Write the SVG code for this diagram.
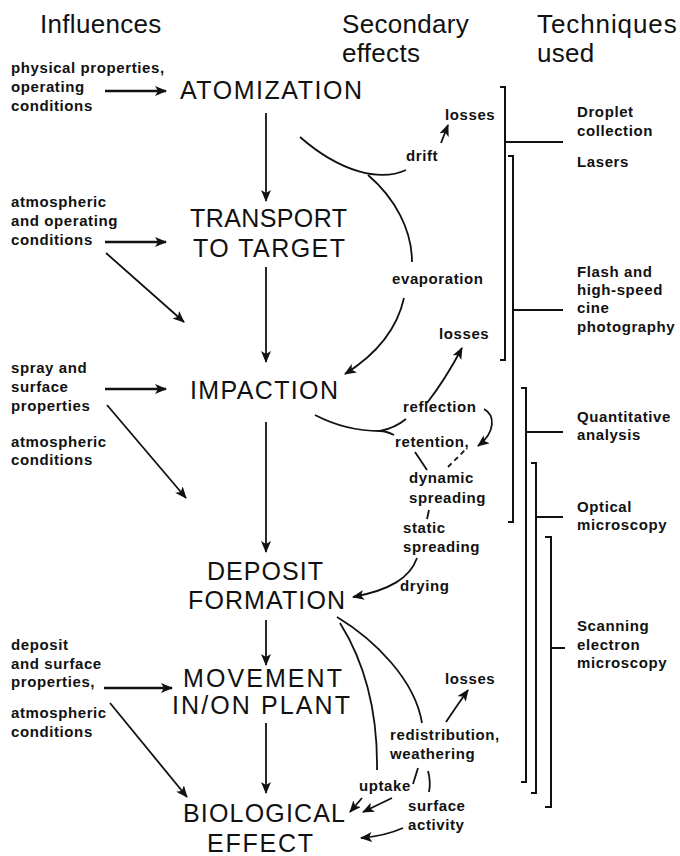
<svg xmlns="http://www.w3.org/2000/svg" width="680" height="856" viewBox="0 0 680 856">
  <defs>
    <style>
      text { font-family: "Liberation Sans", Arial, Helvetica, sans-serif; fill: #111; }
      .head { font-size: 26px; letter-spacing: 0.3px; }
      .big { font-size: 25px; }
      .sm { font-size: 15px; font-weight: bold; letter-spacing: 0.6px; }
      .ln { stroke: #111; stroke-width: 1.8; fill: none; }
      .in { stroke: #111; stroke-width: 2.4; fill: none; }
      .br { stroke: #111; stroke-width: 2; fill: none; }
    </style>
    <marker id="ah" viewBox="0 0 12 10" refX="11" refY="5" markerWidth="12" markerHeight="10" markerUnits="userSpaceOnUse" orient="auto">
      <path d="M0,0 L12,5 L0,10 L3,5 z" fill="#111"/>
    </marker>
  </defs>

  <rect width="680" height="856" fill="#fff"/>

  <!-- column headings -->
  <g id="headings">
    <text class="head" x="40" y="33">Influences</text>
    <text class="head" x="342" y="33">Secondary</text>
    <text class="head" x="342" y="62">effects</text>
    <text class="head" x="537" y="33" textLength="140" lengthAdjust="spacing">Techniques</text>
    <text class="head" x="537" y="62">used</text>
  </g>

  <!-- main process stages -->
  <g id="atomization"><text class="big" x="180" y="99" textLength="182" lengthAdjust="spacing">ATOMIZATION</text></g>
  <g id="transport">
    <text class="big" x="190" y="227" textLength="157" lengthAdjust="spacing">TRANSPORT</text>
    <text class="big" x="193" y="257" textLength="152" lengthAdjust="spacing">TO TARGET</text>
  </g>
  <g id="impaction"><text class="big" x="190" y="399" textLength="148" lengthAdjust="spacing">IMPACTION</text></g>
  <g id="deposit">
    <text class="big" x="207" y="580" textLength="116" lengthAdjust="spacing">DEPOSIT</text>
    <text class="big" x="188" y="609" textLength="157" lengthAdjust="spacing">FORMATION</text>
  </g>
  <g id="movement">
    <text class="big" x="183" y="687" textLength="159" lengthAdjust="spacing">MOVEMENT</text>
    <text class="big" x="172" y="714" textLength="178" lengthAdjust="spacing">IN/ON PLANT</text>
  </g>
  <g id="biological">
    <text class="big" x="183" y="822" textLength="162" lengthAdjust="spacing">BIOLOGICAL</text>
    <text class="big" x="207" y="852" textLength="106" lengthAdjust="spacing">EFFECT</text>
  </g>

  <!-- influences -->
  <g id="inf-atomization">
    <text class="sm" x="11" y="73">physical properties,</text>
    <text class="sm" x="11" y="92">operating</text>
    <text class="sm" x="11" y="111">conditions</text>
  </g>
  <g id="inf-transport">
    <text class="sm" x="11" y="207">atmospheric</text>
    <text class="sm" x="11" y="226">and operating</text>
    <text class="sm" x="11" y="245">conditions</text>
  </g>
  <g id="inf-impaction">
    <text class="sm" x="11" y="373">spray and</text>
    <text class="sm" x="11" y="392">surface</text>
    <text class="sm" x="11" y="411">properties</text>
  </g>
  <g id="inf-deposit">
    <text class="sm" x="11" y="447">atmospheric</text>
    <text class="sm" x="11" y="465">conditions</text>
  </g>
  <g id="inf-movement">
    <text class="sm" x="11" y="650">deposit</text>
    <text class="sm" x="11" y="669">and surface</text>
    <text class="sm" x="11" y="687">properties,</text>
  </g>
  <g id="inf-biological">
    <text class="sm" x="11" y="718">atmospheric</text>
    <text class="sm" x="11" y="737">conditions</text>
  </g>

  <!-- secondary effects -->
  <g id="losses-1"><text class="sm" x="445" y="120">losses</text></g>
  <g id="drift"><text class="sm" x="406" y="161">drift</text></g>
  <g id="evaporation"><text class="sm" x="392" y="284">evaporation</text></g>
  <g id="losses-2"><text class="sm" x="439" y="339">losses</text></g>
  <g id="reflection"><text class="sm" x="403" y="412">reflection</text></g>
  <g id="retention"><text class="sm" x="395" y="447">retention,</text></g>
  <g id="dynamic-spreading">
    <text class="sm" x="409" y="483">dynamic</text>
    <text class="sm" x="409" y="503">spreading</text>
  </g>
  <g id="static-spreading">
    <text class="sm" x="403" y="533">static</text>
    <text class="sm" x="403" y="552">spreading</text>
  </g>
  <g id="drying"><text class="sm" x="400" y="591">drying</text></g>
  <g id="losses-3"><text class="sm" x="445" y="684">losses</text></g>
  <g id="redistribution">
    <text class="sm" x="390" y="740">redistribution,</text>
    <text class="sm" x="390" y="759">weathering</text>
  </g>
  <g id="uptake"><text class="sm" x="359" y="791">uptake</text></g>
  <g id="surface-activity">
    <text class="sm" x="408" y="811">surface</text>
    <text class="sm" x="408" y="830">activity</text>
  </g>

  <!-- techniques -->
  <g id="tech-droplet">
    <text class="sm" x="577" y="117">Droplet</text>
    <text class="sm" x="577" y="136">collection</text>
  </g>
  <g id="tech-lasers"><text class="sm" x="577" y="167">Lasers</text></g>
  <g id="tech-flash">
    <text class="sm" x="577" y="277">Flash and</text>
    <text class="sm" x="577" y="295">high-speed</text>
    <text class="sm" x="577" y="313">cine</text>
    <text class="sm" x="577" y="332">photography</text>
  </g>
  <g id="tech-quant">
    <text class="sm" x="577" y="422">Quantitative</text>
    <text class="sm" x="577" y="440">analysis</text>
  </g>
  <g id="tech-optical">
    <text class="sm" x="577" y="512">Optical</text>
    <text class="sm" x="577" y="530">microscopy</text>
  </g>
  <g id="tech-sem">
    <text class="sm" x="577" y="631">Scanning</text>
    <text class="sm" x="577" y="650">electron</text>
    <text class="sm" x="577" y="668">microscopy</text>
  </g>

  <!-- connectors -->
  <g id="connectors">
    <!-- main flow -->
    <line class="ln" x1="266" y1="113" x2="266" y2="201" marker-end="url(#ah)"/>
    <line class="ln" x1="266" y1="267" x2="266" y2="362" marker-end="url(#ah)"/>
    <line class="ln" x1="266" y1="422" x2="266" y2="552" marker-end="url(#ah)"/>
    <line class="ln" x1="266" y1="620" x2="266" y2="665" marker-end="url(#ah)"/>
    <line class="ln" x1="266" y1="723" x2="266" y2="793" marker-end="url(#ah)"/>

    <!-- influence arrows -->
    <line class="in" x1="105" y1="91" x2="166" y2="91" marker-end="url(#ah)"/>
    <line class="in" x1="105" y1="242" x2="166" y2="242" marker-end="url(#ah)"/>
    <line class="ln" x1="106" y1="253" x2="184" y2="322" marker-end="url(#ah)"/>
    <line class="in" x1="105" y1="389" x2="166" y2="389" marker-end="url(#ah)"/>
    <line class="ln" x1="107" y1="405" x2="186" y2="498" marker-end="url(#ah)"/>
    <line class="in" x1="104" y1="688" x2="172" y2="688" marker-end="url(#ah)"/>
    <line class="ln" x1="110" y1="703" x2="187" y2="797" marker-end="url(#ah)"/>

    <!-- atomization: drift and evaporation -->
    <path class="ln" d="M300,137 C340,172 380,182 406,170"/>
    <line class="ln" x1="441" y1="143" x2="448" y2="125" marker-end="url(#ah)"/>
    <path class="ln" d="M368,175 C395,198 412,230 412,262"/>
    <path class="ln" d="M404,298 C398,325 380,352 345,374" marker-end="url(#ah)"/>

    <!-- impaction: reflection, retention, spreading -->
    <path class="ln" d="M427,403 Q445,380 462,348" marker-end="url(#ah)"/>
    <path class="ln" d="M315,415 C340,428 365,431 380,431 C386,431 390,433 394,435"/>
    <path class="ln" d="M406,419 Q395,428 380,431"/>
    <path class="ln" d="M484,409 C495,415 496,432 478,446" marker-end="url(#ah)"/>
    <line class="ln" x1="448" y1="467" x2="465" y2="450" stroke-dasharray="5,4"/>
    <line class="ln" x1="415" y1="452" x2="427" y2="470"/>
    <line class="ln" x1="429" y1="510" x2="427" y2="519"/>
    <path class="ln" d="M417,558 C410,578 390,590 353,597" marker-end="url(#ah)"/>

    <!-- deposit: redistribution, uptake, surface activity -->
    <path class="ln" d="M337,617 C375,640 415,680 422,723"/>
    <path class="ln" d="M340,623 C360,655 378,700 377,770"/>
    <path class="ln" d="M446,722 Q456,707 468,690" marker-end="url(#ah)"/>
    <line class="ln" x1="418" y1="768" x2="413" y2="784"/>
    <path class="ln" d="M428,771 Q431,782 429,792"/>
    <line class="ln" x1="362" y1="798" x2="350" y2="812" marker-end="url(#ah)"/>
    <line class="ln" x1="392" y1="798" x2="363" y2="812" marker-end="url(#ah)"/>
    <path class="ln" d="M403,828 Q385,836 361,838" marker-end="url(#ah)"/>
  </g>

  <!-- technique brackets -->
  <g id="brackets">
    <path class="br" d="M500,87 H505 V360 H500"/>
    <line class="br" x1="505" y1="142" x2="563" y2="142"/>
    <path class="br" d="M508,156 H513 V522 H508"/>
    <line class="br" x1="513" y1="310" x2="563" y2="310"/>
    <path class="br" d="M521,388 H526 V782 H521"/>
    <line class="br" x1="526" y1="432" x2="563" y2="432"/>
    <path class="br" d="M531,463 H536 V793 H531"/>
    <line class="br" x1="536" y1="517" x2="563" y2="517"/>
    <path class="br" d="M545,537 H551 V807 H545"/>
    <line class="br" x1="551" y1="648" x2="565" y2="648"/>
  </g>
</svg>
